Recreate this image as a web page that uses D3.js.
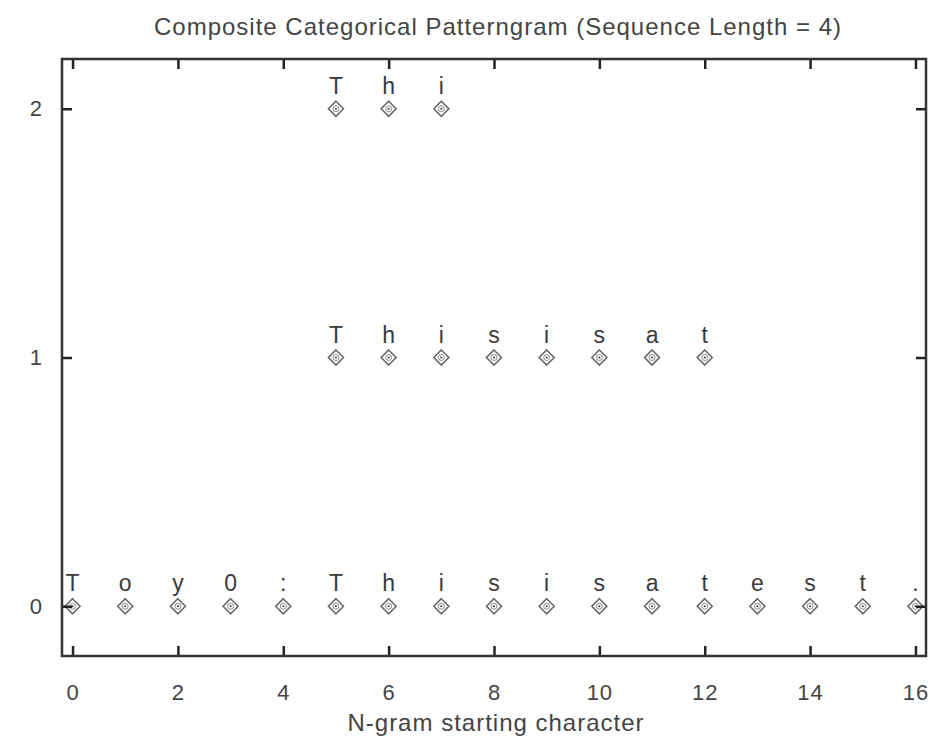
<!DOCTYPE html>
<html>
<head>
<meta charset="utf-8">
<script src="https://cdn.jsdelivr.net/npm/d3@7"></script>
<style>
    body { margin: 0; background: #fff; }
    svg text { font-family: "Liberation Sans", Arial, sans-serif; }
</style>
</head>
<body>
<svg id="chart" width="950" height="737"></svg>
<script>
"use strict";

// one row per repeat level, each char sits at its starting index
var row0Chars = ["T", "o", "y", "0", ":", "T", "h", "i", "s", "i", "s",
        "a", "t", "e", "s", "t", "."];
var row0Start = 0;
var row1Chars = ["T", "h", "i", "s", "i", "s", "a", "t"];
var row1Start = 5;
var row2Chars = ["T", "h", "i"];
var row2Start = 5;
var xTicks = [0, 2, 4, 6, 8, 10, 12, 14, 16];
var yTicks = [0, 1, 2];
var title = "Composite Categorical Patterngram (Sequence Length = 4)";
var xLabel = "N-gram starting character";

var margin = {top: 59, left: 62, bottom: 81, right: 24}; // px
var width = 950 - margin.left - margin.right;
var height = 737 - margin.top - margin.bottom;

var svg = d3.select("#chart");

var toPoints = function (chars, start, level) {
    return chars.map(function (c, i) {
        return {x: start + i, y: level, ch: c};
    });
};
var points = [].concat(
    toPoints(row0Chars, row0Start, 0),
    toPoints(row1Chars, row1Start, 1),
    toPoints(row2Chars, row2Start, 2)
);

var xScale = d3.scaleLinear().domain([-0.2, 16.2]).range([0, width]);
var yScale = d3.scaleLinear().domain([-0.2, 2.2]).range([height, 0]);

var g = svg.append("g")
    .attr("transform", "translate(" + margin.left + "," + margin.top + ")");

// markers: diamond with a small ring and dot inside
var marks = g.selectAll("g.pt")
    .data(points)
    .enter()
    .append("g")
    .attr("class", "pt")
    .attr("transform", function (d) {
        return "translate(" + xScale(d.x) + "," + yScale(d.y) + ")";
    });
marks.append("path")
    .attr("d", "M0,-7.5L7.5,0L0,7.5L-7.5,0Z")
    .attr("fill", "none")
    .attr("stroke", "#6a6a6a")
    .attr("stroke-width", 1.6);
marks.append("circle")
    .attr("r", 3)
    .attr("fill", "none")
    .attr("stroke", "#888")
    .attr("stroke-width", 1);
marks.append("circle")
    .attr("r", 1.1)
    .attr("fill", "#444");

g.selectAll("text.ch")
    .data(points)
    .enter()
    .append("text")
    .attr("class", "ch")
    .attr("x", function (d) {
        return xScale(d.x);
    })
    .attr("y", function (d) {
        return yScale(d.y) - 15;
    })
    .attr("text-anchor", "middle")
    .attr("font-size", 23)
    .attr("fill", "#3a3a3a")
    .text(function (d) {
        return d.ch;
    });

// frame with inward ticks on all four sides
var tickLen = 10;
var bottomAxis = d3.axisBottom(xScale).tickValues(xTicks)
    .tickSize(-tickLen).tickPadding(28);
var topAxis = d3.axisTop(xScale).tickValues(xTicks)
    .tickSize(-tickLen).tickFormat("");
var leftAxis = d3.axisLeft(yScale).tickValues(yTicks)
    .tickSize(-tickLen).tickPadding(19).tickFormat(d3.format("d"));
var rightAxis = d3.axisRight(yScale).tickValues(yTicks)
    .tickSize(-tickLen).tickFormat("");

var styleAxis = function (sel) {
    sel.select(".domain").remove();
    sel.selectAll(".tick line")
        .attr("stroke", "#222")
        .attr("stroke-width", 2.5);
    sel.selectAll(".tick text")
        .attr("fill", "#444")
        .attr("font-size", 22)
        .attr("letter-spacing", 1);
};

g.append("g").attr("transform", "translate(0," + height + ")")
    .call(bottomAxis).call(styleAxis);
g.append("g").call(topAxis).call(styleAxis);
g.append("g").call(leftAxis).call(styleAxis);
g.append("g").attr("transform", "translate(" + width + ",0)")
    .call(rightAxis).call(styleAxis);

g.append("rect")
    .attr("width", width)
    .attr("height", height)
    .attr("fill", "none")
    .attr("stroke", "#333")
    .attr("stroke-width", 2.5);

svg.append("text")
    .attr("x", 498)
    .attr("y", 35)
    .attr("text-anchor", "middle")
    .attr("font-size", 24)
    .attr("letter-spacing", 1)
    .attr("fill", "#444")
    .text(title);

svg.append("text")
    .attr("x", 496)
    .attr("y", 731)
    .attr("text-anchor", "middle")
    .attr("font-size", 24)
    .attr("letter-spacing", 1)
    .attr("fill", "#444")
    .text(xLabel);
</script>
</body>
</html>
